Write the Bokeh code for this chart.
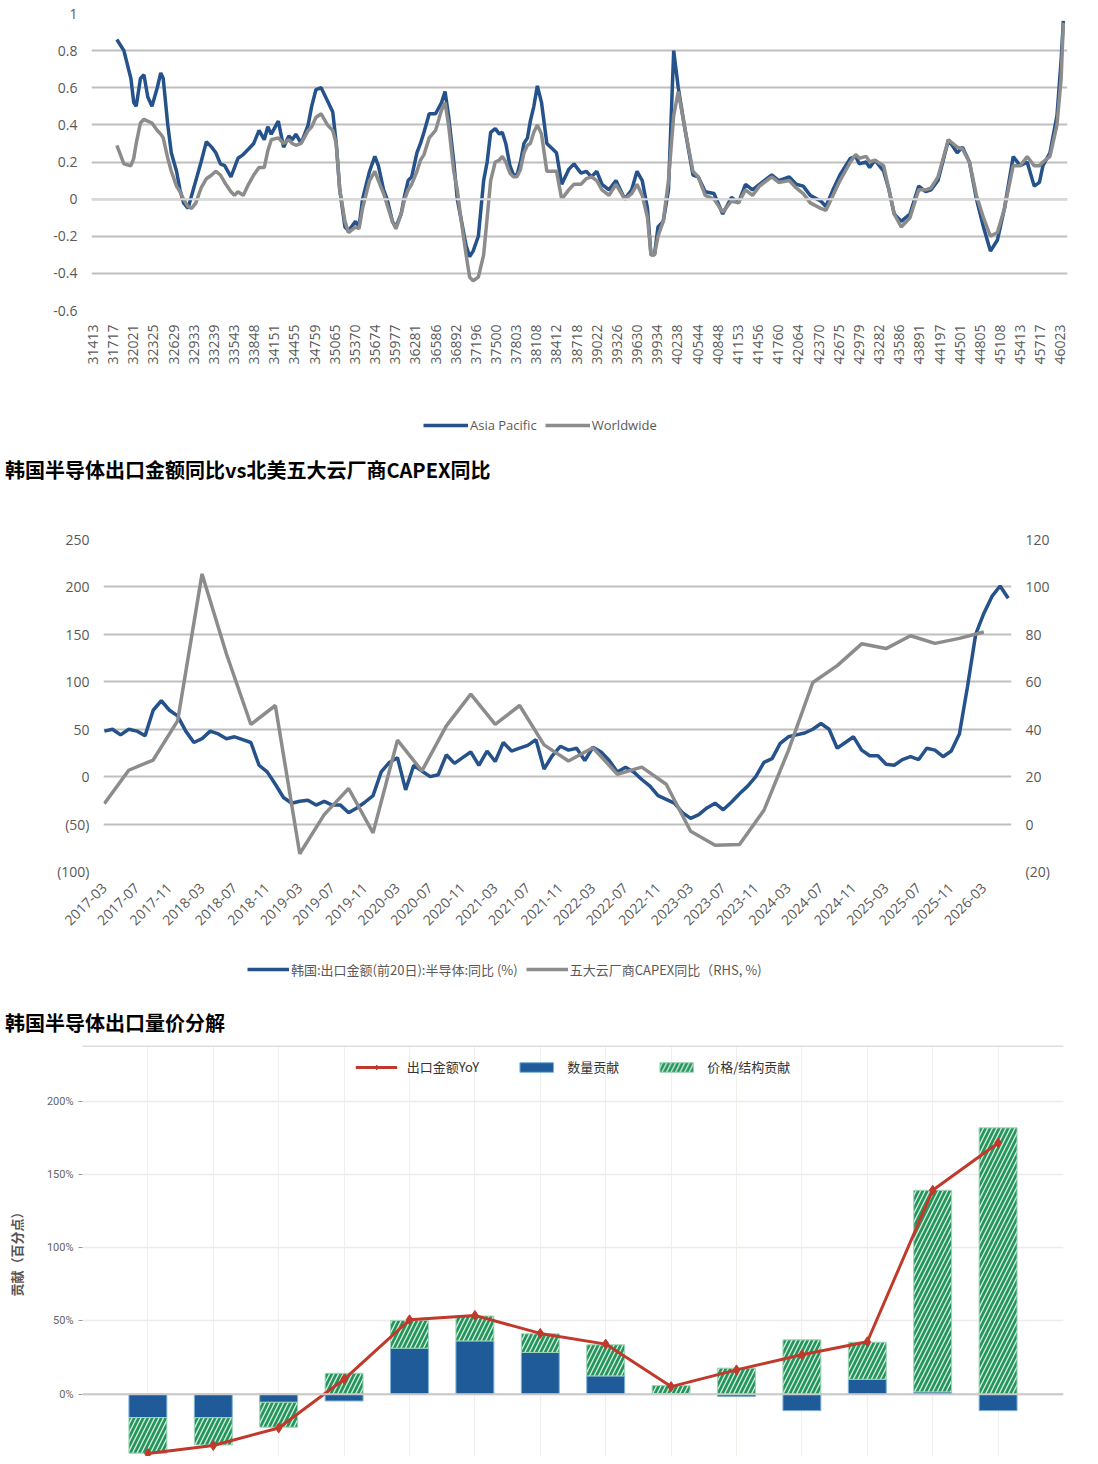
import math
from bokeh.plotting import figure
from bokeh.models import (FixedTicker, Legend, LegendItem, LinearAxis, Range1d, Div, Span)
from bokeh.layouts import column, row
from bokeh.embed import file_html
from bokeh.resources import INLINE

FONT = "Open Sans"
CJK = "Noto Sans CJK SC"
BLUE = "#25528a"
GRAY = "#8c8c8c"

# ---------------- Chart 1 data ----------------
ticks1 = [31413, 31717, 32021, 32325, 32629, 32933, 33239, 33543, 33848, 34151, 34455, 34759,
          35065, 35370, 35674, 35977, 36281, 36586, 36892, 37196, 37500, 37803, 38108, 38412,
          38718, 39022, 39326, 39630, 39934, 40238, 40544, 40848, 41153, 41456, 41760, 42064,
          42370, 42675, 42979, 43282, 43586, 43891, 44197, 44501, 44805, 45108, 45413, 45717, 46023]

dates1 = [31773, 31879, 31985, 32028, 32065, 32129, 32182, 32240, 32303, 32383, 32436, 32473,
          32542, 32595, 32674, 32727, 32780, 32849, 32902, 32966, 33045, 33125, 33204, 33268,
          33337, 33401, 33496, 33549, 33602, 33681, 33761, 33840, 33920, 33999, 34052, 34105,
          34211, 34291, 34370, 34423, 34476, 34556, 34662, 34715, 34779, 34858, 34953, 35033,
          35086, 35139, 35218, 35271, 35377, 35430, 35483, 35589, 35669, 35722, 35801, 35854,
          35934, 35987, 36066, 36119, 36172, 36225, 36305, 36358, 36411, 36490, 36586, 36676,
          36729, 36782, 36861, 36914, 36967, 37047, 37100, 37153, 37232, 37312, 37365, 37418,
          37487, 37550, 37593, 37646, 37709, 37762, 37815, 37868, 37921, 37974, 38017, 38070,
          38123, 38186, 38266,
          38412, 38491, 38597, 38676, 38782, 38861, 38941, 39020, 39099, 39205, 39310, 39443,
          39548, 39628, 39707, 39786, 39839, 39892, 39945, 40024, 40103, 40182, 40251, 40341,
          40473, 40552, 40658, 40790, 40922, 41055, 41160, 41266, 41372, 41477, 41662, 41768,
          41927, 42032, 42138, 42244, 42402, 42481, 42587, 42693, 42851, 42931, 42984, 43089,
          43142, 43221, 43353, 43433, 43512, 43618, 43750, 43882, 43988, 44067, 44173, 44331,
          44463, 44543, 44648, 44754, 44860, 44965, 45071, 45177, 45309, 45415, 45520, 45626,
          45705, 45758, 45864, 45970, 46033, 46066]

asia_pacific = [0.86, 0.80, 0.65, 0.52, 0.50, 0.65, 0.67, 0.55, 0.50, 0.60, 0.68, 0.65,
                0.40, 0.25, 0.15, 0.05, -0.02, -0.05, 0.02, 0.10, 0.20, 0.31, 0.28, 0.25,
                0.19, 0.18, 0.12, 0.17, 0.22, 0.24, 0.27, 0.30, 0.37, 0.32, 0.39, 0.35,
                0.42, 0.28, 0.34, 0.32, 0.35, 0.30, 0.40, 0.50, 0.59, 0.60, 0.53, 0.47,
                0.30, 0.05, -0.15, -0.17, -0.12, -0.15, 0.00, 0.15, 0.23, 0.18, 0.05, 0.00,
                -0.12, -0.15, -0.08, 0.02, 0.10, 0.12, 0.25, 0.30, 0.36, 0.46, 0.46, 0.52,
                0.58, 0.45, 0.20, 0.00, -0.10, -0.25, -0.31, -0.28, -0.20, 0.10, 0.20, 0.36,
                0.38, 0.35, 0.36, 0.30, 0.18, 0.13, 0.13, 0.20, 0.30, 0.33, 0.42, 0.50,
                0.61, 0.52, 0.30,
                0.25, 0.08, 0.16, 0.19, 0.14, 0.15, 0.12, 0.15, 0.08, 0.05, 0.10, 0.00,
                0.05, 0.15, 0.10, -0.05, -0.30, -0.30, -0.15, -0.12, 0.05, 0.80, 0.60, 0.40,
                0.13, 0.12, 0.04, 0.03, -0.08, 0.01, -0.02, 0.08, 0.05, 0.08, 0.13, 0.10,
                0.12, 0.08, 0.07, 0.02, -0.01, -0.04, 0.05, 0.13, 0.22, 0.23, 0.19, 0.20,
                0.17, 0.21, 0.15, 0.05, -0.08, -0.12, -0.08, 0.07, 0.04, 0.05, 0.10, 0.32,
                0.25, 0.28, 0.20, 0.00, -0.15, -0.28, -0.22, -0.05, 0.23, 0.18, 0.20, 0.07,
                0.09, 0.18, 0.25, 0.45, 0.75, 0.96]

worldwide = [0.29, 0.19, 0.18, 0.22, 0.30, 0.41, 0.43, 0.42, 0.41, 0.37, 0.35, 0.33,
             0.22, 0.15, 0.07, 0.04, 0.00, -0.04, -0.05, -0.02, 0.06, 0.11, 0.13, 0.15,
             0.13, 0.09, 0.04, 0.02, 0.04, 0.02, 0.08, 0.13, 0.17, 0.17, 0.26, 0.32,
             0.33, 0.30, 0.32, 0.30, 0.29, 0.30, 0.37, 0.39, 0.44, 0.46, 0.40, 0.37,
             0.30, 0.05, -0.12, -0.18, -0.15, -0.16, -0.05, 0.10, 0.15, 0.10, 0.03, -0.03,
             -0.12, -0.16, -0.08, 0.00, 0.05, 0.08, 0.15, 0.21, 0.24, 0.33, 0.37, 0.48,
             0.52, 0.40, 0.15, 0.05, -0.10, -0.30, -0.42, -0.44, -0.42, -0.30, -0.10, 0.10,
             0.20, 0.21, 0.23, 0.20, 0.14, 0.12, 0.12, 0.16, 0.25, 0.29, 0.30, 0.36,
             0.40, 0.35, 0.15,
             0.15, 0.00, 0.05, 0.08, 0.08, 0.11, 0.12, 0.10, 0.05, 0.02, 0.08, 0.00,
             0.03, 0.08, 0.02, -0.10, -0.30, -0.30, -0.20, -0.12, 0.10, 0.45, 0.58, 0.40,
             0.15, 0.12, 0.02, 0.00, -0.07, -0.01, -0.02, 0.05, 0.02, 0.07, 0.12, 0.09,
             0.10, 0.06, 0.03, -0.02, -0.05, -0.06, 0.02, 0.10, 0.20, 0.24, 0.22, 0.23,
             0.20, 0.21, 0.18, 0.05, -0.08, -0.15, -0.10, 0.05, 0.05, 0.06, 0.12, 0.32,
             0.28, 0.27, 0.20, 0.02, -0.10, -0.20, -0.18, -0.05, 0.18, 0.18, 0.23, 0.18,
             0.18, 0.20, 0.23, 0.40, 0.65, 0.95]

assert len(dates1) == len(asia_pacific) == len(worldwide)

# ---------------- Chart 2 data ----------------
month_labels = ["2017-03", "2017-07", "2017-11", "2018-03", "2018-07", "2018-11", "2019-03",
                "2019-07", "2019-11", "2020-03", "2020-07", "2020-11", "2021-03", "2021-07",
                "2021-11", "2022-03", "2022-07", "2022-11", "2023-03", "2023-07", "2023-11",
                "2024-03", "2024-07", "2024-11", "2025-03", "2025-07", "2025-11", "2026-03"]

korea_semi = [48, 50, 44, 50, 48, 43, 70, 80, 70, 64, 48, 36, 40, 48, 45, 40, 42, 39, 36, 12,
              5, -8, -22, -28, -26, -25, -30, -26, -30, -30, -38, -33, -27, -20, 5, 15, 20, -14,
              12, 6, 0, 2, 23, 14, 20, 26, 12, 27, 16, 36, 27, 30, 33, 39, 8, 22, 32, 28, 30,
              17, 31, 26, 17, 5, 10, 5, -3, -10, -20, -24, -28, -38, -44, -40, -33, -28, -35,
              -27, -18, -10, 0, 15, 19, 35, 42, 44, 46, 50, 56, 50, 30, 36, 42, 28, 22, 22, 13,
              12, 18, 21, 18, 30, 28, 21, 27, 45, 95, 150, 172, 190, 201, 188]
korea_month = list(range(len(korea_semi)))

capex_month = list(range(0, 109, 3))
capex_yoy = [8.6, 22.7, 27, 43.5, 105.5, 71.7, 42, 50, -12.5, 4, 15, -3.7, 35.4, 22.4, 41.4,
             54.8, 42, 50, 33.4, 26.6, 32.2, 21, 24, 16.8, -3, -8.9, -8.6, 5.8, 31, 59.7,
             66.8, 76, 74, 79.4, 76.2, 78.3, 81]
assert len(capex_month) == len(capex_yoy)

# ---------------- Chart 3 data ----------------
periods = list(range(14))
qty_contrib = [-15.9, -16, -5.5, -4.6, 31.4, 36.4, 28.5, 12.5, 0.5, -1.5, -11.2, 10.2, 1.6, -11.2]
price_contrib = [-24.3, -18.6, -17, 14.3, 19, 17, 12.7, 21.2, 5.4, 17.8, 37.1, 25.3, 137.6, 181.8]
export_yoy = [-40.5, -35, -23, 10.2, 50.8, 53.8, 41.5, 34.2, 5.2, 16.6, 26.9, 35.8, 139.2, 171.5]


def legend(items, loc, **kw):
    opts = dict(orientation="horizontal", location=loc, border_line_color=None,
                background_fill_alpha=0, label_text_color="#595959", padding=0, margin=0,
                label_standoff=2)
    opts.update(kw)
    return Legend(items=items, **opts)


def legend_strip(height, xs, ys, styles, labels, loc, font, glyph_width):
    """A strip under a chart that only carries its legend (lines drawn off-view)."""
    f = figure(width=1082, height=height, output_backend="svg", toolbar_location=None,
               x_range=Range1d(-1e9, -1e9 + 1), y_range=Range1d(0, 1),
               min_border=0)
    f.axis.visible = False
    f.grid.visible = False
    f.outline_line_color = None
    items = []
    for x, y, (c, w), lab in zip(xs, ys, styles, labels):
        r = f.line(x, y, line_color=c, line_width=w)
        items.append(LegendItem(label=lab, renderers=[r]))
    f.add_layout(legend(items, loc, glyph_width=glyph_width, label_text_font=font,
                        label_text_font_size="13px", spacing=8))
    return f


# ================= Figure 1 =================
p1 = figure(width=1082, height=372, output_backend="svg", toolbar_location=None,
            x_range=Range1d(31390, 46129), y_range=Range1d(-0.6, 1.0),
            min_border_top=13, min_border_left=91, min_border_right=15, min_border_bottom=62)
p1.outline_line_color = None
p1.xgrid.visible = False
p1.ygrid.grid_line_color = "#bfbfbf"
p1.ygrid.grid_line_width = 2
yt1 = [-0.6, -0.4, -0.2, 0, 0.2, 0.4, 0.6, 0.8, 1]
p1.yaxis.ticker = FixedTicker(ticks=yt1)
p1.yaxis.major_label_overrides = {-0.6: "-0.6", -0.4: "-0.4", -0.2: "-0.2", 0: "0", 0.2: "0.2",
                                  0.4: "0.4", 0.6: "0.6", 0.8: "0.8", 1: "1"}
p1.ygrid.ticker = FixedTicker(ticks=yt1)
p1.xaxis.ticker = FixedTicker(ticks=ticks1)
p1.xaxis.major_label_overrides = {t: str(t) for t in ticks1}
p1.xaxis.major_label_orientation = math.pi / 2
for ax in (p1.xaxis[0], p1.yaxis[0]):
    ax.axis_line_color = None
    ax.major_tick_line_color = None
    ax.minor_tick_line_color = None
    ax.major_label_text_font = FONT
    ax.major_label_text_font_size = "14px"
    ax.major_label_text_color = "#595959"
    ax.major_label_standoff = 8
p1.add_layout(Span(location=0, dimension="width", line_color="#d9d9d9", line_width=2))
p1.line(dates1, asia_pacific, line_color=BLUE, line_width=3.5)
p1.line(dates1, worldwide, line_color=GRAY, line_width=3.5)

leg1 = legend_strip(76, [dates1, dates1], [asia_pacific, worldwide],
                    [(BLUE, 3.5), (GRAY, 3.5)], ["Asia Pacific", "Worldwide"],
                    (423, 13), FONT, 45)

title_style = {"font-family": CJK, "font-size": "20px", "font-weight": "bold", "color": "#000000",
               "padding-left": "5px"}
div1 = Div(text="韩国半导体出口金额同比vs北美五大云厂商CAPEX同比", width=1077, height=44,
           styles=dict(title_style, **{"line-height": "44px"}), margin=(0, 0, 0, 0))

# ================= Figure 2 =================
p2 = figure(width=1082, height=453, output_backend="svg", toolbar_location=None,
            x_range=Range1d(-0.1, 111.4), y_range=Range1d(-100, 250),
            min_border_top=47, min_border_left=103, min_border_right=71, min_border_bottom=74)
p2.extra_y_ranges = {"r": Range1d(-20, 120)}
p2.outline_line_color = None
p2.xgrid.visible = False
p2.ygrid.grid_line_color = "#bfbfbf"
p2.ygrid.grid_line_width = 2
yt2 = [-100, -50, 0, 50, 100, 150, 200, 250]
p2.yaxis.ticker = FixedTicker(ticks=yt2)
p2.ygrid.ticker = FixedTicker(ticks=yt2)
p2.yaxis.major_label_overrides = {-100: "(100)", -50: "(50)"}
rax = LinearAxis(y_range_name="r", ticker=FixedTicker(ticks=[-20, 0, 20, 40, 60, 80, 100, 120]),
                 major_label_overrides={-20: "(20)"})
p2.add_layout(rax, "right")
p2.xaxis.ticker = FixedTicker(ticks=list(range(0, 109, 4)))
p2.xaxis.major_label_overrides = {i * 4: lab for i, lab in enumerate(month_labels)}
p2.xaxis.major_label_orientation = math.pi / 4
for ax in (p2.xaxis[0], p2.yaxis[0], rax):
    ax.axis_line_color = None
    ax.major_tick_line_color = None
    ax.minor_tick_line_color = None
    ax.major_label_text_font = FONT
    ax.major_label_text_font_size = "14px"
    ax.major_label_text_color = "#595959"
    ax.major_label_standoff = 8
p2.line(korea_month, korea_semi, line_color=BLUE, line_width=3.5)
p2.line(capex_month, capex_yoy, y_range_name="r", line_color=GRAY, line_width=3.5)

leg2 = legend_strip(55, [korea_month, capex_month], [korea_semi, capex_yoy],
                    [(BLUE, 3.5), (GRAY, 3.5)],
                    ["韩国:出口金额(前20日):半导体:同比 (%)", "五大云厂商CAPEX同比（RHS, %)"],
                    (247, 21), CJK, 42)

div2 = Div(text="韩国半导体出口量价分解", width=1077, height=45,
           styles=dict(title_style, **{"line-height": "45px"}), margin=(0, 0, 0, 0))

# ================= Figure 3 =================
p3 = figure(width=1082, height=411, output_backend="svg", toolbar_location=None,
            x_range=Range1d(-1, 14), y_range=Range1d(-42.5, 238),
            min_border_top=0, min_border_left=82, min_border_right=19, min_border_bottom=0)
p3.outline_line_color = None
p3.xaxis.visible = False
p3.xgrid.ticker = FixedTicker(ticks=periods)
p3.xgrid.grid_line_color = "#f0f0ea"
p3.xgrid.bounds = (-42.5, 200)
p3.ygrid.grid_line_color = "#ececec"
p3.ygrid.grid_line_width = 1.5
yt3 = [0, 50, 100, 150, 200]
p3.yaxis.ticker = FixedTicker(ticks=yt3)
p3.ygrid.ticker = FixedTicker(ticks=yt3)
p3.yaxis.major_label_overrides = {v: "%d%%" % v for v in yt3}
p3.yaxis.axis_line_color = None
p3.yaxis.major_tick_line_color = "#999999"
p3.yaxis.major_tick_out = 4
p3.yaxis.major_tick_in = 0
p3.yaxis.minor_tick_line_color = None
p3.yaxis.major_label_text_font = "Roboto"
p3.yaxis.major_label_text_font_size = "11px"
p3.yaxis.major_label_text_color = "#666666"
p3.yaxis.axis_label = "贡献（百分点）"
p3.yaxis.axis_label_text_font = CJK
p3.yaxis.axis_label_text_font_size = "13px"
p3.yaxis.axis_label_text_font_style = "bold"
p3.yaxis.axis_label_text_color = "#555555"
p3.yaxis.axis_label_standoff = 18
p3.add_layout(Span(location=0, dimension="width", line_color="#c8c8c8", line_width=2))
p3.add_layout(Span(location=238, dimension="width", line_color="#dddddd", line_width=3))

price_bottom = [q if q * pc > 0 else 0 for q, pc in zip(qty_contrib, price_contrib)]
price_top = [b + pc for b, pc in zip(price_bottom, price_contrib)]
r_q = p3.vbar(x=periods, top=qty_contrib, bottom=0, width=0.58, fill_color="#1f5b99",
              line_color="#7fb3d9", line_width=1)
r_p = p3.vbar(x=periods, top=price_top, bottom=price_bottom, width=0.58, fill_color="#23955a",
              line_color="#9fd6b8", line_width=1, hatch_pattern="/", hatch_color="white",
              hatch_alpha=0.8, hatch_scale=9, hatch_weight=1.4)
r_l = p3.line(periods, export_yoy, line_color="#c0392b", line_width=3)
r_m = p3.scatter(periods, export_yoy, marker="diamond", size=10, fill_color="#c0392b",
                 line_color="#c0392b")
p3.add_layout(legend([LegendItem(label="出口金额YoY", renderers=[r_l, r_m]),
                      LegendItem(label="数量贡献", renderers=[r_q]),
                      LegendItem(label="价格/结构贡献", renderers=[r_p])],
                     "top_center", glyph_width=42, glyph_height=12, label_text_font=CJK,
                     label_text_font_size="13px", label_text_color="#333333", spacing=36,
                     label_standoff=10, margin=12))

layout = column(row(p1), row(leg1), div1, row(p2), row(leg2), div2, row(p3), spacing=0)
open("out.html", "w").write(file_html(layout, INLINE))
